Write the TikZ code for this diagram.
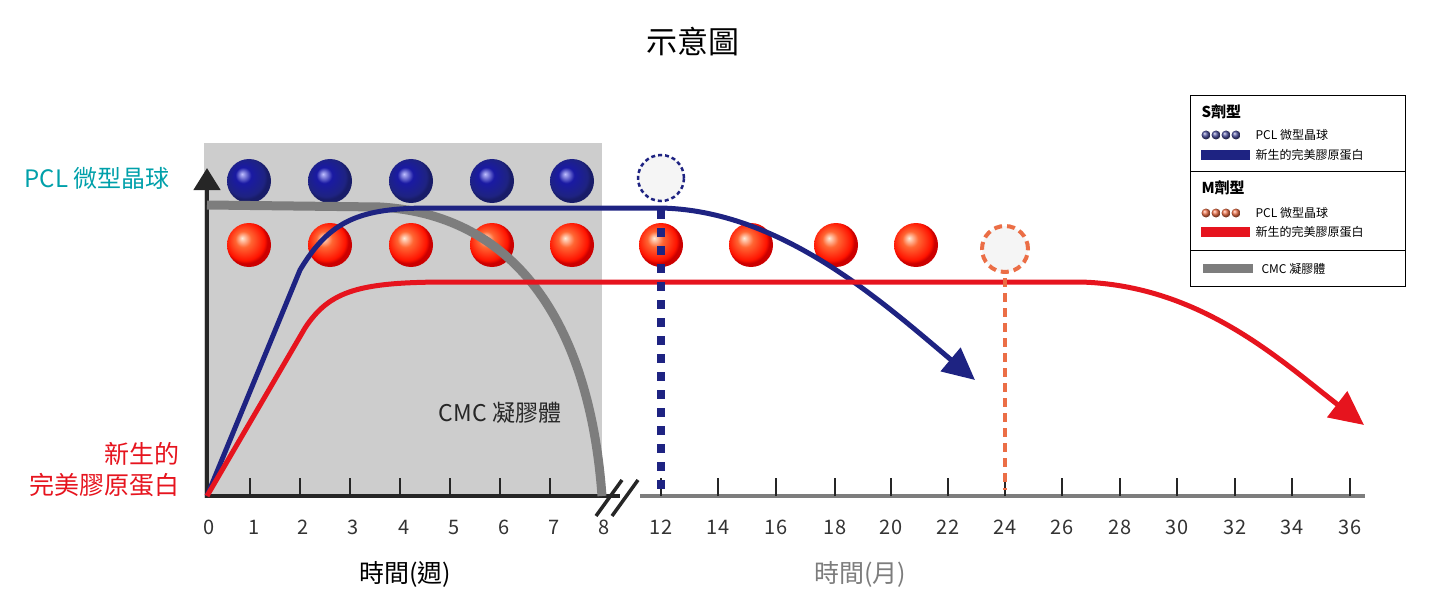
\documentclass[tikz,border=0pt]{standalone}
\usepackage{fontspec}
\setmainfont{Noto Sans CJK TC}
\usetikzlibrary{arrows.meta}
\definecolor{sblue}{RGB}{30,35,130}
\definecolor{sred}{RGB}{230,20,30}
\definecolor{sorange}{RGB}{235,110,70}
\definecolor{cgray}{RGB}{125,125,125}
\definecolor{bgray}{RGB}{205,205,205}
\definecolor{teal2}{RGB}{0,160,170}
\pgfdeclareradialshading{redball}{\pgfpoint{-8bp}{8bp}}{color(0bp)=(white!85!orange);color(9bp)=(orange!50!red!80!white);color(22bp)=(red!85!orange);color(25bp)=(red!80!black);color(50bp)=(red!80!black)}
\pgfdeclareradialshading{blueball}{\pgfpoint{-8bp}{8bp}}{color(0bp)=(blue!25!white);color(9bp)=(blue!60!black!90!white);color(22bp)=(sblue);color(25bp)=(sblue!80!black);color(50bp)=(sblue!80!black)}
\tikzset{
 bball/.style={circle,minimum size=44pt,inner sep=0pt,shading=blueball},
 rball/.style={circle,minimum size=44pt,inner sep=0pt,shading=redball},
 tick/.style={line width=2pt},
 lbl/.style={font=\fontsize{20}{22}\selectfont,text=black!80},
 lg/.style={font=\fontsize{12}{13}\selectfont,anchor=west},
}
\begin{document}
\begin{tikzpicture}[x=1pt,y=-1pt]
\useasboundingbox (0,0) rectangle (1430,607);
\fill[bgray] (204,143) rectangle (602,498);
\node[font=\fontsize{31}{33}\selectfont] (title) at (693,42) {示意圖};
% balls
\foreach \x/\n in {249/b1,330/b2,411/b3,492/b4,572/b5} \node[bball] (\n) at (\x,181) {};
\foreach \x/\n in {249/r1,330/r2,411/r3,492/r4,572/r5,661/r6,751/r7,836/r8,916/r9} \node[rball] (\n) at (\x,245) {};
\node[circle,minimum size=46pt,draw=sblue,dash pattern=on 4pt off 3pt,line width=2.5pt,fill=gray!8] (db) at (661,178) {};
\node[circle,minimum size=46pt,draw=sorange,dash pattern=on 8pt off 5pt,line width=4pt,fill=gray!8] (dr) at (1005,249) {};
% axes
\coordinate (o) at (207,496);
\draw[line width=4.5pt,black!85] (o) -- (620,496);
\draw[line width=4.5pt,cgray] (640,496) -- (1365,496);
\draw[line width=4.5pt,black!85,-{Triangle[length=22pt,width=26pt]}] (207,498) -- (207,168);
\foreach \x in {250,300,350,400,450,500,550,661} \draw[tick,black!85] (\x,496) -- (\x,478);
\foreach \x in {718,776,835,891,948,1005,1062,1120,1177,1235,1292,1350} \draw[tick,black!85] (\x,496) -- (\x,478);
\draw[line width=3.5pt,black!85] (596,516) -- (622,480) (612,516) -- (638,480);
% labels
\foreach \x/\t in {209/0,254/1,303/2,353/3,404/4,454/5,504/6,554/7,604/8,661/12,718/14,776/16,835/18,891/20,948/22,1005/24,1062/26,1120/28,1177/30,1235/32,1292/34,1350/36}
  \node[lbl] at (\x,527) {\t};
\node[font=\fontsize{25}{26}\selectfont] (t1) at (405,574) {時間(週)};
\node[font=\fontsize{25}{26}\selectfont,text=cgray] (t2) at (860,574) {時間(月)};
\node[font=\fontsize{24}{26}\selectfont,text=teal2] (pcl) at (97,178) {PCL 微型晶球};
\node[font=\fontsize{25}{31}\selectfont,text=sred,align=right,anchor=east] (col) at (183,470) {新生的\\完美膠原蛋白};
\node[font=\fontsize{23}{24}\selectfont,text=black!85] (cmc) at (500,413) {CMC 凝膠體};
% curves
\draw[cgray,line width=9pt] (207,205) -- (380,207) .. controls (520,215) and (590,330) .. (602,496);
\draw[sblue,line width=5pt,-{Triangle[length=32pt,width=30pt]}] (o) -- (300,270) .. controls (330,220) and (360,208) .. (430,208) -- (660,208) .. controls (780,210) and (880,300) .. (975,380);
\draw[sred,line width=5pt,-{Triangle[length=34pt,width=32pt]}] (o) -- (305,328) .. controls (330,290) and (360,282) .. (450,282) -- (1080,282) .. controls (1200,285) and (1280,360) .. (1364,425);
\draw[sblue,line width=8pt,dash pattern=on 9pt off 9pt] (db.south) ++(0,8) -- (661,490);
\draw[sorange,line width=4pt,dash pattern=on 9pt off 6pt] (dr.south) ++(0,4) -- (1005,490);
% legend
\draw[line width=1pt] (1190,96) rectangle (1405,286);
\draw[line width=1pt] (1190,172) -- (1405,172) (1190,250) -- (1405,250);
\node[font=\bfseries\fontsize{15}{16}\selectfont,anchor=west] (ls) at (1198,112) {S劑型};
\node[font=\bfseries\fontsize{15}{16}\selectfont,anchor=west] (lm) at (1198,188) {M劑型};
\foreach \i in {0,1,2,3} {
 \shade[ball color=sblue!80!white] (1206+\i*10,135) circle (4.5pt);
 \shade[ball color=sorange] (1206+\i*10,213) circle (4.5pt);}
\node[lg] at (1252,135) {PCL 微型晶球};
\node[lg] at (1252,213) {PCL 微型晶球};
\fill[sblue] (1201,150) rectangle (1250,160);
\node[lg] at (1252,155) {新生的完美膠原蛋白};
\fill[sred] (1201,227) rectangle (1250,237);
\node[lg] at (1252,232) {新生的完美膠原蛋白};
\fill[cgray] (1203,264) rectangle (1253,273);
\node[lg] at (1258,269) {CMC 凝膠體};
\end{tikzpicture}
\end{document}
